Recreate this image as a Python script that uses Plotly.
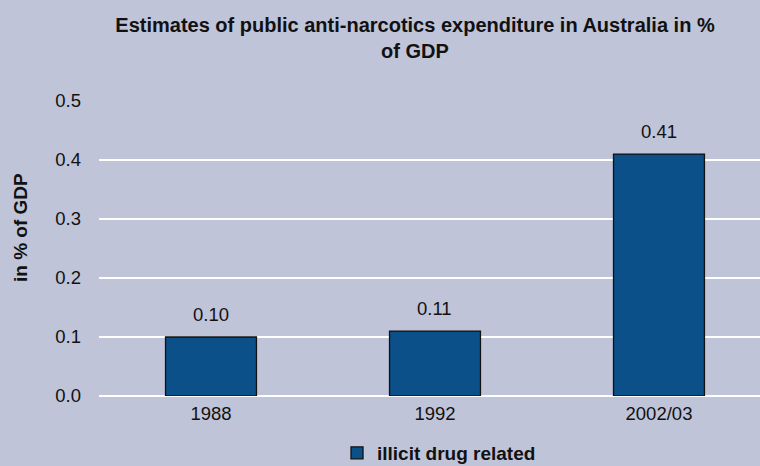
import plotly.graph_objects as go

categories = ["1988", "1992", "2002/03"]
values = [0.10, 0.11, 0.41]
labels = ["0.10", "0.11", "0.41"]
series_name = "illicit drug related"

BG = "#BFC4D9"
BAR = "#0B5089"
FONT = "Liberation Sans, Arial, sans-serif"
W, H = 760, 466
ML, MT, MB, MR = 99, 101, 70, 0

fig = go.Figure()
fig.add_trace(go.Bar(
    x=categories, y=values, name=series_name,
    marker=dict(color=BAR, line=dict(color="#111111", width=1.3)),
))
for i, (v, t) in enumerate(zip(values, labels)):
    fig.add_annotation(x=i, y=v, text=t, showarrow=False, yanchor="bottom",
                       yshift=10, font=dict(size=18.5, family=FONT, color="#111111"))

fig.add_annotation(xref="paper", yref="paper",
                   x=(20 - ML) / (W - ML - MR), y=(H - MB - 228) / (H - MT - MB),
                   text="<b>in % of GDP</b>", textangle=-90, showarrow=False,
                   xanchor="center", yanchor="middle",
                   font=dict(size=19, family=FONT, color="#111111"))

fig.update_layout(
    width=W, height=H,
    paper_bgcolor=BG, plot_bgcolor=BG,
    margin=dict(l=ML, r=MR, t=MT, b=MB),
    font=dict(family=FONT, size=18.5, color="#111111"),
    title=dict(
        text="<b>Estimates of public anti-narcotics expenditure in Australia in %<br>of GDP</b>",
        xref="container", x=415 / W, xanchor="center",
        yref="container", y=1 - 32 / H, yanchor="top",
        font=dict(size=20, family=FONT, color="#111111"),
    ),
    bargap=0.594,
    showlegend=True,
    legend=dict(
        orientation="h", xref="container", x=337 / W, xanchor="left",
        yref="container", y=1 - 453 / H, yanchor="middle",
        font=dict(size=19, family=FONT, color="#111111", weight="bold"),
        bgcolor="rgba(0,0,0,0)", borderwidth=0,
    ),
    xaxis=dict(range=[-0.5, 2.451], showgrid=False, zeroline=False, showline=False,
               ticks="", tickfont=dict(size=18.5), ticklabelstandoff=4),
    yaxis=dict(range=[0, 0.5], dtick=0.1, tickformat=".1f",
               showgrid=True, gridcolor="white", gridwidth=2,
               zeroline=True, zerolinecolor="white", zerolinewidth=2,
               showline=False, ticks="", tickfont=dict(size=18.5),
               ticklabelstandoff=17),
)
fig.write_html("out.html", config={"displayModeBar": False},
               post_script="document.body.style.margin='0';document.body.style.overflow='hidden';document.body.style.background='" + BG + "';")
